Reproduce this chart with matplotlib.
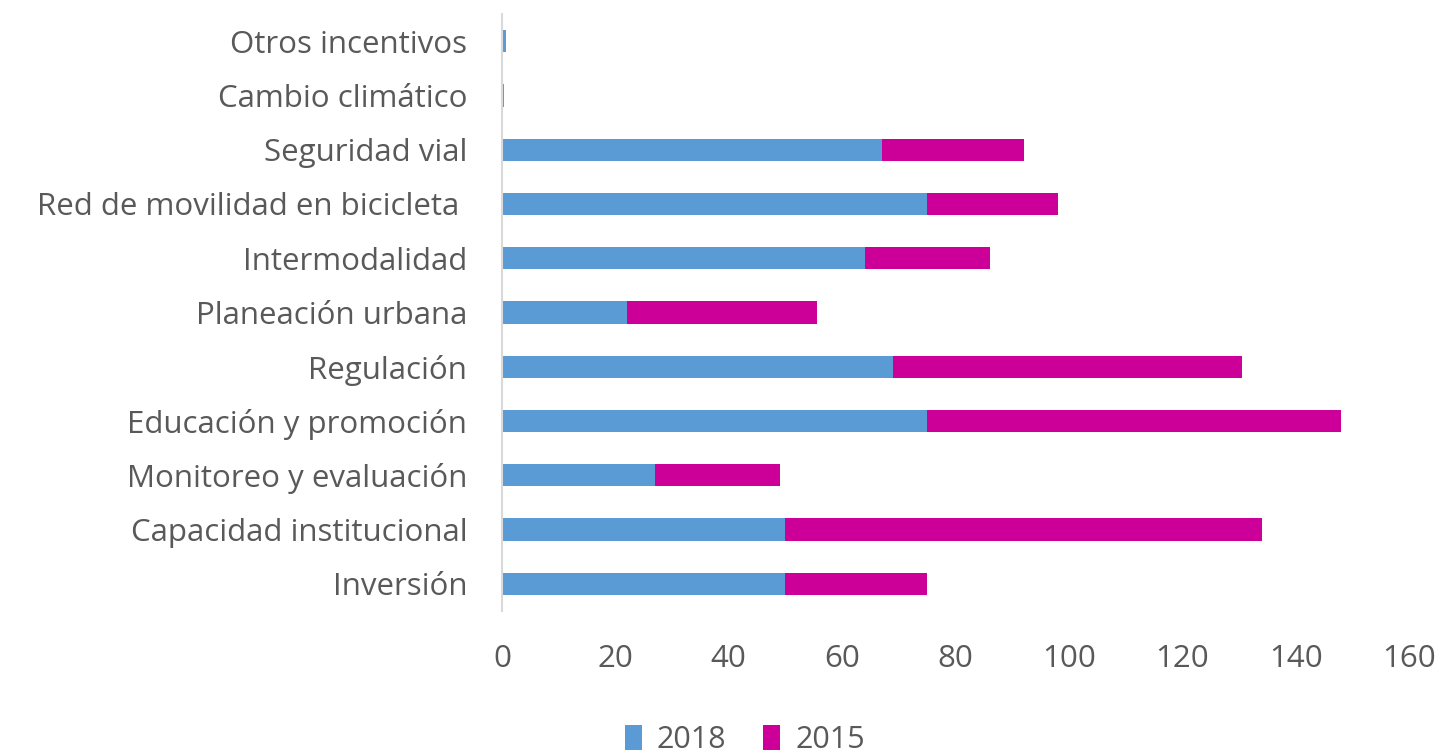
import matplotlib.pyplot as plt

categorias = ['Inversión', 'Capacidad institucional', 'Monitoreo y evaluación',
              'Educación y promoción', 'Regulación', 'Planeación urbana',
              'Intermodalidad', 'Red de movilidad en bicicleta ', 'Seguridad vial',
              'Cambio climático', 'Otros incentivos']
v2018 = [50, 50, 27, 75, 69, 22, 64, 75, 67, 0.4, 0.7]
v2015 = [25, 84, 22, 73, 61.5, 33.6, 22, 23, 25, 0, 0]

azul = '#5B9BD5'
magenta = '#CC0099'
gris = '#595959'

plt.rcParams['font.family'] = ['Open Sans', 'DejaVu Sans']

fig = plt.figure(figsize=(14.45, 7.55), dpi=100)
ax = fig.add_axes([0.3474, 0.1907, 0.6277, 0.7907])

y = range(len(categorias))
ax.barh(y, v2018, height=0.41, color=azul, label='2018')
ax.barh(y, v2015, left=v2018, height=0.41, color=magenta, label='2015')

ax.set_xlim(0, 160)
ax.set_ylim(-0.5, len(categorias) - 0.5)
ax.set_xticks(range(0, 161, 20))
ax.set_yticks(list(y))
ax.set_yticklabels(categorias)

for s in ['top', 'right', 'bottom']:
    ax.spines[s].set_visible(False)
ax.spines['left'].set_color('#d9d9d9')
ax.spines['left'].set_linewidth(1.5)
ax.tick_params(axis='both', length=0, colors=gris, labelsize=22.5)
ax.tick_params(axis='x', pad=24)
ax.tick_params(axis='y', pad=25)

fig.legend(loc='center', bbox_to_anchor=(745 / 1445, 0.02), ncol=2, frameon=False,
           fontsize=22, labelcolor=gris, handlelength=0.55, handleheight=0.85,
           handletextpad=0.5, columnspacing=1.2)

fig.savefig('out.png', dpi=100)
